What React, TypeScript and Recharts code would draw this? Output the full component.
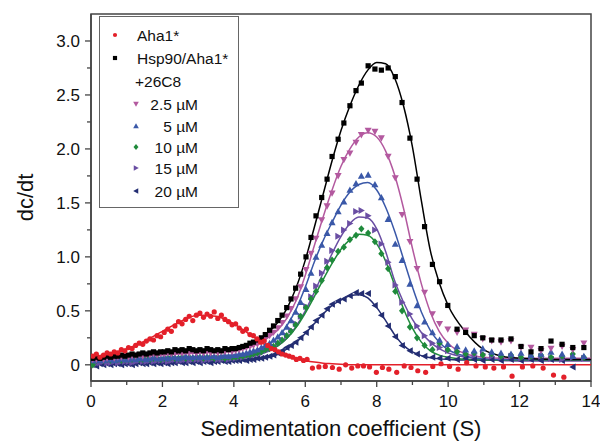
import React from 'react';
import { ComposedChart, XAxis, YAxis, Scatter, Line, ReferenceArea, Legend, Label } from 'recharts';

// ---------- grids (sedimentation coefficient, S) ----------
const gridDense = [
  0.05, 0.15, 0.25, 0.35, 0.45, 0.55, 0.65, 0.75, 0.85, 0.95,
  1.05, 1.15, 1.25, 1.35, 1.45, 1.55, 1.65, 1.75, 1.85, 1.95,
  2.05, 2.15, 2.25, 2.35, 2.45, 2.55, 2.65, 2.75, 2.85, 2.95,
  3.05, 3.15, 3.25, 3.35, 3.45, 3.55, 3.65, 3.75, 3.85, 3.95,
  4.05, 4.15, 4.25, 4.35, 4.45,
];
const gridSparse = [
  4.55, 4.66, 4.77, 4.88, 5.0,
  5.11, 5.23, 5.35, 5.48, 5.6,
  5.73, 5.87, 6.02, 6.16, 6.3,
  6.46, 6.61, 6.75, 6.92, 7.08,
  7.25, 7.42, 7.57, 7.76, 7.95,
  8.13, 8.32, 8.52, 8.71, 8.93,
  9.13, 9.34, 9.56, 9.76, 9.99,
  10.25, 10.49, 10.73, 10.97, 11.22,
  11.48, 11.76, 12.04, 12.32, 12.6,
  12.88, 13.19, 13.49, 13.8,
];
const redMidS = [4.55, 4.65, 4.75, 4.85, 4.95, 5.05, 5.15, 5.25, 5.35, 5.45, 5.55, 5.65, 5.75, 5.85, 5.95, 6.05];
const redSparseS = [
  6.2, 6.38, 6.56, 6.76, 6.95, 7.13, 7.3, 7.47, 7.63, 7.8,
  7.99, 8.16, 8.34, 8.56, 8.77, 8.96, 9.15, 9.37, 9.57, 9.8,
  10.04, 10.28, 10.52, 10.78, 11.04, 11.28, 11.55, 11.79, 12.08, 12.37,
  12.66, 12.95, 13.24,
];
const fitS = [
  0, 0.5, 1, 1.5, 2, 2.5, 3, 3.5, 4, 4.5, 5,
  5.25, 5.5, 5.75, 6, 6.25, 6.5, 6.75, 7, 7.25, 7.5, 7.75, 8, 8.25, 8.5, 8.75, 9, 9.25, 9.5, 9.75, 10,
  10.5, 11, 11.5, 12, 13, 14,
];

// ---------- Aha1* (red) ----------
const aha1Dense = [
  0.08, 0.10, 0.07, 0.09, 0.11, 0.10, 0.12, 0.11, 0.14, 0.13,
  0.16, 0.15, 0.18, 0.20, 0.19, 0.22, 0.24, 0.23, 0.27, 0.26,
  0.30, 0.33, 0.31, 0.36, 0.40, 0.38, 0.42, 0.45, 0.41, 0.46,
  0.48, 0.44, 0.47, 0.45, 0.49, 0.43, 0.46, 0.42, 0.40, 0.37,
  0.38, 0.34, 0.31, 0.33, 0.28,
];
const aha1Mid = [0.27, 0.24, 0.21, 0.22, 0.18, 0.15, 0.14, 0.12, 0.10, 0.09, 0.08, 0.07, 0.05, 0.06, 0.04, 0.05];
const aha1Sparse = [
  -0.03, -0.02, -0.015, -0.025, -0.04, 0.0, -0.03, -0.01, -0.01, -0.02,
  -0.07, -0.025, -0.04, -0.07, -0.01, -0.025, -0.055, -0.07, -0.015, 0.01,
  -0.015, -0.04, 0.02, -0.01, -0.02, -0.03, -0.02, -0.105, -0.02, -0.01,
  -0.03, -0.095, -0.115,
];
const aha1Fit = [
  0.07, 0.10, 0.15, 0.22, 0.31, 0.40, 0.46, 0.45, 0.38, 0.27, 0.16,
  0.12, 0.085, 0.06, 0.04, 0.025, 0.015, 0.01, 0.005, 0, 0, 0, 0, 0, 0, 0, 0, 0, 0, 0, 0,
  0, 0, 0, 0, 0, 0,
];

// ---------- Hsp90/Aha1* (black) ----------
const hspDense = [
  0.06, 0.07, 0.06, 0.07, 0.08, 0.07, 0.08, 0.08, 0.09, 0.08,
  0.09, 0.10, 0.09, 0.10, 0.11, 0.10, 0.11, 0.12, 0.11, 0.12,
  0.12, 0.13, 0.12, 0.14, 0.13, 0.14, 0.13, 0.15, 0.14, 0.13,
  0.14, 0.13, 0.15, 0.14, 0.13, 0.14, 0.13, 0.15, 0.14, 0.15,
  0.15, 0.16, 0.17, 0.18, 0.20,
];
const hspSparse = [
  0.21, 0.23, 0.25, 0.28, 0.32,
  0.36, 0.41, 0.46, 0.53, 0.61,
  0.71, 0.84, 1.00, 1.18, 1.38,
  1.55, 1.72, 1.93, 2.09, 2.24,
  2.40, 2.54, 2.61, 2.77, 2.74,
  2.73, 2.75, 2.67, 2.43, 2.10,
  1.72, 1.28, 0.93, 0.77, 0.55,
  0.33, 0.30, 0.27, 0.25, 0.23,
  0.23, 0.24, 0.17, 0.12, 0.15,
  0.22, 0.19, 0.16, 0.16,
];
const hspFit = [
  0.06, 0.07, 0.08, 0.09, 0.10, 0.11, 0.12, 0.13, 0.15, 0.20, 0.31,
  0.40, 0.53, 0.72, 0.97, 1.27, 1.58, 1.89, 2.17, 2.40, 2.59, 2.73, 2.80, 2.79, 2.66, 2.40, 2.02, 1.52, 1.06, 0.76, 0.55,
  0.30, 0.14, 0.08, 0.06, 0.05, 0.05,
];

// ---------- +26C8 2.5 µM (pink) ----------
const c25Dense = [
  0.05, 0.05, 0.06, 0.05, 0.06, 0.07, 0.06, 0.07, 0.07, 0.08,
  0.07, 0.08, 0.08, 0.09, 0.08, 0.09, 0.09, 0.10, 0.09, 0.10,
  0.10, 0.11, 0.10, 0.11, 0.12, 0.11, 0.12, 0.11, 0.12, 0.11,
  0.12, 0.11, 0.12, 0.11, 0.12, 0.11, 0.12, 0.12, 0.13, 0.12,
  0.13, 0.14, 0.15, 0.16, 0.17,
];
const c25Sparse = [
  0.18, 0.19, 0.21, 0.24, 0.27,
  0.30, 0.34, 0.39, 0.45, 0.52,
  0.61, 0.72, 0.88, 1.03, 1.17,
  1.34, 1.47, 1.59, 1.75, 1.90,
  1.96, 2.06, 2.13, 2.17, 2.16,
  2.10, 1.93, 1.73, 1.39, 1.14,
  0.89, 0.67, 0.47, 0.38, 0.33,
  0.30, 0.32, 0.28, 0.24, 0.22,
  0.21, 0.22, 0.16, 0.16, 0.13,
  0.15, 0.17, 0.14, 0.20,
];
const c25Fit = [
  0.05, 0.06, 0.07, 0.08, 0.09, 0.10, 0.11, 0.12, 0.13, 0.17, 0.26,
  0.33, 0.44, 0.60, 0.83, 1.10, 1.37, 1.62, 1.84, 2.00, 2.11, 2.15, 2.11, 1.98, 1.76, 1.45, 1.08, 0.75, 0.49, 0.31, 0.20,
  0.10, 0.07, 0.06, 0.06, 0.06, 0.06,
];

// ---------- 5 µM (blue) ----------
const c5Dense = [
  0.04, 0.04, 0.05, 0.04, 0.05, 0.05, 0.04, 0.05, 0.06, 0.05,
  0.05, 0.06, 0.05, 0.06, 0.06, 0.05, 0.06, 0.07, 0.06, 0.06,
  0.07, 0.06, 0.07, 0.07, 0.06, 0.07, 0.08, 0.07, 0.07, 0.08,
  0.07, 0.08, 0.07, 0.08, 0.08, 0.07, 0.08, 0.09, 0.08, 0.09,
  0.09, 0.10, 0.10, 0.11, 0.12,
];
const c5Sparse = [
  0.13, 0.14, 0.16, 0.18, 0.20,
  0.23, 0.26, 0.30, 0.35, 0.41,
  0.49, 0.58, 0.70, 0.85, 1.00,
  1.11, 1.22, 1.32, 1.42, 1.51,
  1.62, 1.68, 1.75, 1.76, 1.67,
  1.55, 1.35, 1.12, 0.97, 0.75,
  0.55, 0.40, 0.30, 0.23, 0.19,
  0.17, 0.14, 0.13, 0.15, 0.12,
  0.11, 0.10, 0.11, 0.09, 0.10,
  0.12, 0.10, 0.08, 0.08,
];
const c5Fit = [
  0.04, 0.045, 0.05, 0.055, 0.06, 0.065, 0.07, 0.08, 0.09, 0.12, 0.20,
  0.26, 0.37, 0.52, 0.72, 0.95, 1.15, 1.32, 1.48, 1.60, 1.67, 1.69, 1.62, 1.46, 1.24, 0.98, 0.72, 0.49, 0.32, 0.21, 0.14,
  0.08, 0.055, 0.05, 0.05, 0.05, 0.05,
];

// ---------- 10 µM (green) ----------
const c10Dense = [
  0.00, 0.04, 0.05, 0.04, 0.05, 0.04, 0.05, 0.05, 0.04, 0.05,
  0.05, 0.05, 0.06, 0.05, 0.05, 0.06, 0.05, 0.06, 0.06, 0.05,
  0.06, 0.06, 0.07, 0.06, 0.06, 0.07, 0.06, 0.07, 0.06, 0.07,
  0.07, 0.06, 0.07, 0.07, 0.06, 0.07, 0.07, 0.06, 0.07, 0.07,
  0.07, 0.08, 0.08, 0.09, 0.09,
];
const c10Sparse = [
  0.10, 0.11, 0.12, 0.14, 0.15,
  0.17, 0.20, 0.23, 0.27, 0.31,
  0.37, 0.45, 0.53, 0.61, 0.68,
  0.78, 0.90, 0.97, 1.05, 1.09,
  1.16, 1.20, 1.26, 1.22, 1.14,
  1.03, 0.89, 0.68, 0.50, 0.35,
  0.25, 0.18, 0.14, 0.20, 0.14,
  0.12, 0.10, 0.11, 0.09, 0.10,
  0.08, 0.09, 0.07, 0.08, 0.09,
  0.07, 0.08, 0.10, 0.07,
];
const c10Fit = [
  0.04, 0.045, 0.05, 0.055, 0.06, 0.06, 0.065, 0.07, 0.075, 0.09, 0.14,
  0.18, 0.25, 0.35, 0.48, 0.63, 0.79, 0.94, 1.07, 1.16, 1.21, 1.20, 1.12, 0.96, 0.74, 0.52, 0.34, 0.21, 0.13, 0.09, 0.07,
  0.05, 0.045, 0.045, 0.045, 0.045, 0.045,
];

// ---------- 15 µM (purple) ----------
const c15Dense = [
  0.02, 0.01, 0.02, 0.03, 0.02, 0.02, 0.03, 0.02, 0.03, 0.03,
  0.03, 0.02, 0.03, 0.04, 0.03, 0.03, 0.04, 0.03, 0.04, 0.04,
  0.04, 0.03, 0.04, 0.05, 0.04, 0.04, 0.05, 0.04, 0.05, 0.05,
  0.05, 0.04, 0.05, 0.05, 0.06, 0.05, 0.05, 0.06, 0.05, 0.06,
  0.06, 0.07, 0.07, 0.08, 0.09,
];
const c15Sparse = [
  0.09, 0.10, 0.11, 0.13, 0.15,
  0.17, 0.20, 0.23, 0.27, 0.32,
  0.38, 0.45, 0.54, 0.63, 0.73,
  0.85, 0.96, 1.06, 1.19, 1.25,
  1.31, 1.42, 1.43, 1.38, 1.25,
  1.12, 0.95, 0.74, 0.58, 0.47,
  0.36, 0.27, 0.20, 0.16, 0.13,
  0.12, 0.10, 0.09, 0.10, 0.08,
  0.07, 0.08, 0.06, 0.07, 0.08,
  0.06, 0.05, 0.07, 0.06,
];
const c15Fit = [
  0.025, 0.027, 0.03, 0.035, 0.04, 0.045, 0.05, 0.055, 0.06, 0.08, 0.13,
  0.18, 0.25, 0.36, 0.50, 0.67, 0.85, 1.03, 1.19, 1.31, 1.37, 1.36, 1.26, 1.05, 0.78, 0.58, 0.42, 0.30, 0.21, 0.15, 0.11,
  0.07, 0.05, 0.04, 0.035, 0.035, 0.035,
];

// ---------- 20 µM (navy) ----------
const c20Dense = [
  0.00, -0.01, 0.01, 0.00, 0.01, 0.00, 0.01, 0.01, 0.00, 0.01,
  0.01, 0.00, 0.01, 0.02, 0.01, 0.01, 0.02, 0.01, 0.02, 0.01,
  0.02, 0.01, 0.02, 0.02, 0.03, 0.02, 0.02, 0.03, 0.02, 0.03,
  0.02, 0.03, 0.03, 0.02, 0.03, 0.03, 0.04, 0.03, 0.03, 0.04,
  0.04, 0.04, 0.05, 0.04, 0.05,
];
const c20Sparse = [
  0.05, 0.06, 0.06, 0.07, 0.08,
  0.09, 0.11, 0.13, 0.16, 0.18,
  0.21, 0.25, 0.30, 0.35, 0.41,
  0.46, 0.52, 0.56, 0.59, 0.61,
  0.64, 0.67, 0.66, 0.66, 0.55,
  0.46, 0.36, 0.26, 0.18, 0.13,
  0.10, 0.08, 0.07, 0.06, 0.06,
  0.05, 0.06, 0.05, 0.04, 0.05,
  0.04, 0.05, 0.04, 0.05, 0.04,
  0.05, 0.04, -0.02,
];
const c20Fit = [
  0.01, 0.01, 0.012, 0.015, 0.018, 0.02, 0.025, 0.03, 0.035, 0.045, 0.07,
  0.10, 0.15, 0.21, 0.29, 0.38, 0.47, 0.55, 0.60, 0.64, 0.65, 0.62, 0.53, 0.41, 0.28, 0.18, 0.12, 0.085, 0.065, 0.055, 0.05,
  0.045, 0.045, 0.045, 0.045, 0.045, 0.045,
];

// ---------- ticks & labels ----------
const xTicks = [0, 1, 2, 3, 4, 5, 6, 7, 8, 9, 10, 11, 12, 13, 14];
const yTicks = [0, 0.25, 0.5, 0.75, 1, 1.25, 1.5, 1.75, 2, 2.25, 2.5, 2.75, 3];
const xTitle = 'Sedimentation coefficient (S)';
const yTitle = 'dc/dt';
const legendHeader = '+26C8';

type Pt = { s: number; v: number };
const zip = (s: number[], v: number[]): Pt[] =>
  v.map((y, i) => ({ s: s[i], v: y })).filter((p) => p.s !== undefined);

const FONT = '"Liberation Sans", Arial, Helvetica, sans-serif';

type Kind = 'circle' | 'square' | 'down' | 'up' | 'diamond' | 'right' | 'left';

function Mark({ kind, cx, cy, color, k = 1 }: { kind: Kind; cx: number; cy: number; color: string; k?: number }) {
  if (cx == null || cy == null || isNaN(cx) || isNaN(cy)) return <g />;
  const a = 3.5 * k;
  const b = 2.8 * k;
  let pts = '';
  switch (kind) {
    case 'circle':
      return <circle cx={cx} cy={cy} r={2.6 * k} fill={color} />;
    case 'square':
      return <rect x={cx - 2.6 * k} y={cy - 2.6 * k} width={5.2 * k} height={5.2 * k} fill={color} />;
    case 'down':
      pts = `${cx - a},${cy - b} ${cx + a},${cy - b} ${cx},${cy + a}`;
      break;
    case 'up':
      pts = `${cx - a},${cy + b} ${cx + a},${cy + b} ${cx},${cy - a}`;
      break;
    case 'diamond':
      pts = `${cx},${cy - 3.6 * k} ${cx + 3.1 * k},${cy} ${cx},${cy + 3.6 * k} ${cx - 3.1 * k},${cy}`;
      break;
    case 'right':
      pts = `${cx - b},${cy - a} ${cx - b},${cy + a} ${cx + a},${cy}`;
      break;
    case 'left':
      pts = `${cx + b},${cy - a} ${cx + b},${cy + a} ${cx - a},${cy}`;
      break;
  }
  return <polygon points={pts} fill={color} />;
}

type Series = { name: string; color: string; kind: Kind; points: Pt[]; fit: Pt[] };

const series: Series[] = [
  { name: '20 µM', color: '#232d72', kind: 'left', points: [...zip(gridDense, c20Dense), ...zip(gridSparse, c20Sparse)], fit: zip(fitS, c20Fit) },
  { name: '15 µM', color: '#6a4ea3', kind: 'right', points: [...zip(gridDense, c15Dense), ...zip(gridSparse, c15Sparse)], fit: zip(fitS, c15Fit) },
  { name: '10 µM', color: '#1f8a3b', kind: 'diamond', points: [...zip(gridDense, c10Dense), ...zip(gridSparse, c10Sparse)], fit: zip(fitS, c10Fit) },
  { name: '5 µM', color: '#3a58a8', kind: 'up', points: [...zip(gridDense, c5Dense), ...zip(gridSparse, c5Sparse)], fit: zip(fitS, c5Fit) },
  { name: '2.5 µM', color: '#b3599f', kind: 'down', points: [...zip(gridDense, c25Dense), ...zip(gridSparse, c25Sparse)], fit: zip(fitS, c25Fit) },
  { name: 'Hsp90/Aha1*', color: '#000000', kind: 'square', points: [...zip(gridDense, hspDense), ...zip(gridSparse, hspSparse)], fit: zip(fitS, hspFit) },
  { name: 'Aha1*', color: '#e3202a', kind: 'circle', points: [...zip(gridDense, aha1Dense), ...zip(redMidS, aha1Mid), ...zip(redSparseS, aha1Sparse)], fit: zip(fitS, aha1Fit) },
];

const XTick = (p: any) => {
  const { x, y, payload } = p;
  const v = payload.value as number;
  const major = v % 2 === 0;
  return (
    <g>
      <line x1={x} x2={x} y1={y} y2={y + (major ? 6 : 4)} stroke="#444" strokeWidth={1.3} />
      {major && (
        <text x={x} y={y + 26} textAnchor="middle" fontSize={17} fontFamily={FONT} fill="#111">
          {String(v)}
        </text>
      )}
    </g>
  );
};

const YTick = (p: any) => {
  const { x, y, payload } = p;
  const v = payload.value as number;
  const major = Math.abs(v * 2 - Math.round(v * 2)) < 1e-6;
  return (
    <g>
      <line x1={x} x2={x - (major ? 6 : 4)} y1={y} y2={y} stroke="#444" strokeWidth={1.3} />
      {major && (
        <text x={x - 11} y={y + 6} textAnchor="end" fontSize={17} fontFamily={FONT} fill="#111">
          {v === 0 ? '0' : v.toFixed(1)}
        </text>
      )}
    </g>
  );
};

const XTitle = (p: any) => {
  const vb = p.viewBox || { x: 91, y: 381, width: 500, height: 61 };
  return (
    <text x={vb.x + vb.width / 2} y={vb.y + vb.height - 6} textAnchor="middle" fontSize={22} fontFamily={FONT} fill="#111">
      {xTitle}
    </text>
  );
};

const YTitle = (p: any) => {
  const vb = p.viewBox || { x: 0, y: 14, width: 91, height: 367 };
  const cx = vb.x + 33;
  const cy = vb.y + vb.height / 2;
  return (
    <text x={cx} y={cy} transform={`rotate(-90 ${cx} ${cy})`} textAnchor="middle" fontSize={22} fontFamily={FONT} fill="#111">
      {yTitle}
    </text>
  );
};

const legendRows: { label: string; kind?: Kind; color?: string; indent: boolean }[] = [
  { label: 'Aha1*', kind: 'circle', color: '#e3202a', indent: false },
  { label: 'Hsp90/Aha1*', kind: 'square', color: '#000000', indent: false },
  { label: legendHeader, indent: false },
  { label: '2.5 µM', kind: 'down', color: '#b3599f', indent: true },
  { label: '5 µM', kind: 'up', color: '#3a58a8', indent: true },
  { label: '10 µM', kind: 'diamond', color: '#1f8a3b', indent: true },
  { label: '15 µM', kind: 'right', color: '#6a4ea3', indent: true },
  { label: '20 µM', kind: 'left', color: '#232d72', indent: true },
];
const legendRowY = [19, 42, 65, 88, 110, 131, 152, 175];

const LegendBox = () => (
  <div style={{ width: 140, height: 192, border: '1px solid #666', boxSizing: 'border-box', background: '#fff' }}>
    <svg width={138} height={190} style={{ display: 'block' }}>
      {legendRows.map((r, i) => {
        const cy = legendRowY[i] - 1;
        return (
          <g key={r.label}>
            {r.kind && r.color && <Mark kind={r.kind} cx={r.indent ? 36 : 15} cy={cy} color={r.color} k={0.8} />}
            {r.indent ? (
              <text x={98} y={cy + 5.5} textAnchor="end" fontSize={15.5} fontFamily={FONT} fill="#111">
                {r.label}
              </text>
            ) : (
              <text x={r.kind ? 37 : 35} y={cy + 5.5} fontSize={15.5} fontFamily={FONT} fill="#111">
                {r.label}
              </text>
            )}
          </g>
        );
      })}
    </svg>
  </div>
);

export default function App() {
  return (
    <div style={{ position: 'absolute', left: 0, top: 0, width: 600, height: 442, background: '#fff' }}>
      <ComposedChart width={600} height={442} margin={{ top: 14, right: 9, bottom: 0, left: 0 }}>
        <XAxis
          type="number"
          dataKey="s"
          domain={[0, 14]}
          ticks={xTicks}
          interval={0}
          allowDataOverflow
          height={61}
          tickLine={false}
          tickSize={0}
          tickMargin={0}
          tick={(p: any) => <XTick {...p} />}
          axisLine={{ stroke: '#444', strokeWidth: 1.5 }}
        >
          <Label content={XTitle} />
        </XAxis>
        <YAxis
          type="number"
          domain={[-0.15, 3.25]}
          ticks={yTicks}
          interval={0}
          allowDataOverflow
          width={91}
          tickLine={false}
          tickSize={0}
          tickMargin={0}
          tick={(p: any) => <YTick {...p} />}
          axisLine={{ stroke: '#444', strokeWidth: 1.5 }}
        >
          <Label content={YTitle} />
        </YAxis>
        <ReferenceArea x1={0} x2={14} y1={-0.15} y2={3.25} fill="none" stroke="#444" strokeWidth={1.5} />
        {series.map((sr) => (
          <Scatter
            key={'sc' + sr.name}
            name={sr.name}
            data={sr.points}
            dataKey="v"
            isAnimationActive={false}
            shape={(p: any) => <Mark kind={sr.kind} cx={p.cx} cy={p.cy} color={sr.color} />}
          />
        ))}
        {series.map((sr) => (
          <Line
            key={'ln' + sr.name}
            data={sr.fit}
            dataKey="v"
            type="monotone"
            stroke={sr.color}
            strokeWidth={1.5}
            dot={false}
            activeDot={false}
            isAnimationActive={false}
            legendType="none"
          />
        ))}
        <Legend
          layout="horizontal"
          verticalAlign="middle"
          align="center"
          content={() => <LegendBox />}
          wrapperStyle={{ left: 99, top: 16, width: 140, height: 192, margin: 0, padding: 0 }}
        />
      </ComposedChart>
    </div>
  );
}
